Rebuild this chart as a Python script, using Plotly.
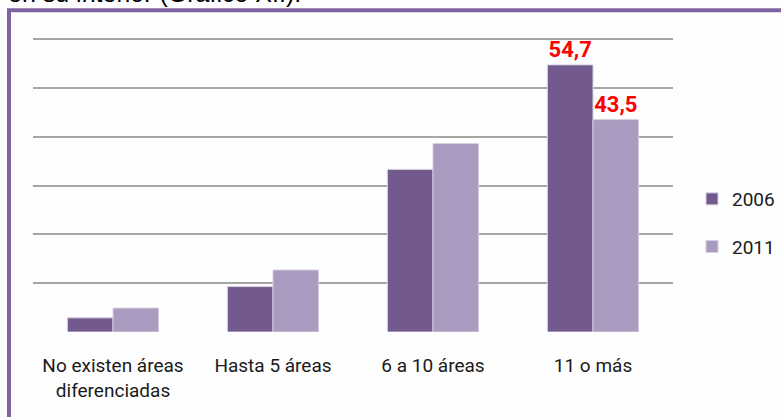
import plotly.graph_objects as go

categories = ["No existen áreas<br>diferenciadas", "Hasta 5 áreas", "6 a 10 áreas", "11 o más"]
series_names = ["2006", "2011"]
values_2006 = [2.9, 9.3, 33.3, 54.7]
values_2011 = [4.9, 12.7, 38.6, 43.5]
labelled = [False, False, False, True]
y_ticks = [0, 10, 20, 30, 40, 50, 60]

colors = ["#725A8E", "#A99ABF"]
FONT = "Roboto, Liberation Sans, sans-serif"

W, H = 781, 417
# value axis: 0 at y=332.3, 60 at y=38.7 (window pixels); plot top raised 2px so the top grid line shows
BASE, TOP60 = 332.3, 38.7
PX_PER_UNIT = (BASE - TOP60) / y_ticks[-1]
ML, MT = 33, TOP60 - 2
PW, PH = 640, BASE - (TOP60 - 2)
MR = W - ML - PW
MB = H - MT - PH
Y_MAX = PH / PX_PER_UNIT


def px_x(x):
    return (x - ML) / PW


def px_y(y):
    return (MT + PH - y) / PH


def fmt(v):
    return f"{v:.1f}".replace(".", ",")


fig = go.Figure()
for i, (name, vals) in enumerate(zip(series_names, [values_2006, values_2011])):
    fig.add_trace(go.Bar(
        x=list(range(len(categories))), y=vals, name=name,
        legendgroup=name,
        marker=dict(color=colors[i], line=dict(color="#D6D0E0", width=1)),
        text=[fmt(v) if lab else "" for v, lab in zip(vals, labelled)],
        textposition="outside", cliponaxis=False,
        textfont=dict(family=FONT, size=22, color="#FF0000"),
        texttemplate="<b>%{text}</b>",
        hoverinfo="skip",
    ))

fig.update_layout(
    width=W, height=H,
    margin=dict(l=ML, r=MR, t=MT, b=MB, autoexpand=False),
    paper_bgcolor="#FEFEFE", plot_bgcolor="#FEFEFE",
    barmode="group", bargap=0.43, bargroupgap=0,
    showlegend=True,
    legend=dict(
        x=px_x(692), y=px_y(180), xanchor="left", yanchor="top",
        traceorder="grouped", tracegroupgap=20,
        itemwidth=30,
        font=dict(family=FONT, size=19, color="#1A1A1A"),
        bgcolor="rgba(0,0,0,0)",
    ),
    xaxis=dict(
        range=[-0.5, len(categories) - 0.5],
        tickmode="array", tickvals=list(range(len(categories))), ticktext=categories,
        showgrid=False, zeroline=False, showline=False, ticks="",
        ticklabelstandoff=20,
        tickfont=dict(family=FONT, size=19, color="#1A1A1A"),
    ),
    yaxis=dict(
        range=[y_ticks[0], Y_MAX], tickmode="array", tickvals=y_ticks,
        showticklabels=False, showgrid=True, gridcolor="#A6A6A6", gridwidth=1.5,
        zeroline=False, showline=False, ticks="",
    ),
    shapes=[dict(
        type="rect", xref="paper", yref="paper",
        x0=px_x(9), x1=px_x(830), y0=px_y(450), y1=px_y(10),
        line=dict(color="#8064A2", width=4), fillcolor="rgba(0,0,0,0)", layer="above",
    )],
    annotations=[dict(
        text="en su interior (Gráfico XII).", xref="paper", yref="paper",
        x=px_x(6), y=px_y(8.5), xanchor="left", yanchor="bottom", showarrow=False,
        font=dict(family="Liberation Sans, Arial, sans-serif", size=25, color="#000000"),
    )],
)

fig.write_html(
    "out.html",
    config={"displayModeBar": False},
    post_script="document.body.style.margin='0';document.body.style.overflow='hidden';",
)
